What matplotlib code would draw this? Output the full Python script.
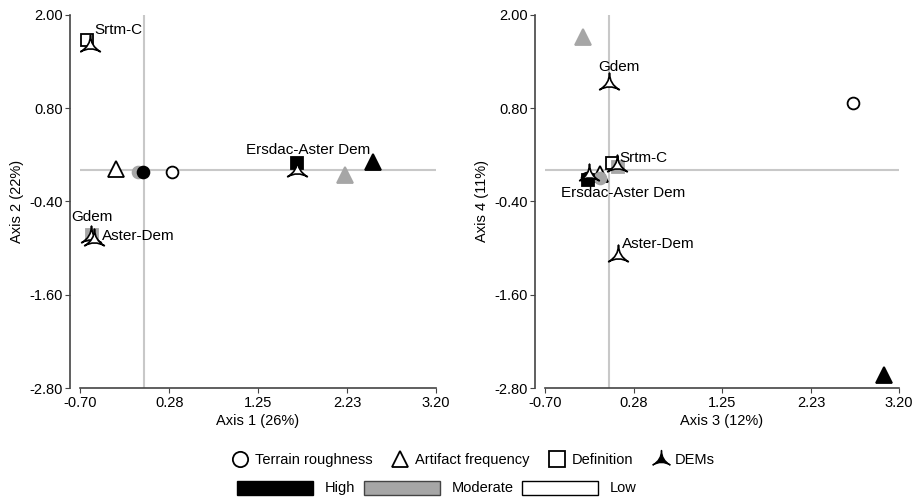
import numpy as np
import matplotlib
matplotlib.use('Agg')
import matplotlib.pyplot as plt
from matplotlib.path import Path
from matplotlib.lines import Line2D
from matplotlib.patches import Patch

plt.rcParams['font.family'] = ['Liberation Sans', 'DejaVu Sans']
plt.rcParams['font.size'] = 10.5

# category points: (x, y) per panel
# Terrain roughness (circles): high, moderate, low
circ_left = {'High': (-0.01, -0.02), 'Moderate': (-0.06, -0.02), 'Low': (0.31, -0.02)}
circ_right = {'High': (-0.24, -0.10), 'Moderate': (-0.09, -0.10), 'Low': (2.69, 0.87)}
# Artifact frequency (triangles)
tri_left = {'High': (2.51, 0.11), 'Moderate': (2.20, -0.06), 'Low': (-0.31, 0.02)}
tri_right = {'High': (3.04, -2.63), 'Moderate': (-0.28, 1.72), 'Low': (-0.09, -0.05)}
# Definition (squares)
sq_left = {'High': (1.68, 0.10), 'Moderate': (-0.57, -0.83), 'Low': (-0.62, 1.68)}
sq_right = {'High': (-0.23, -0.12), 'Moderate': (0.10, 0.04), 'Low': (0.04, 0.10)}

# DEMs
dem_names = ['Srtm-C', 'Ersdac-Aster Dem', 'Gdem', 'Aster-Dem']
dem_left_x = [-0.59, 1.68, -0.58, -0.55]
dem_left_y = [1.61, 0.00, -0.85, -0.88]
dem_right_x = [0.09, -0.21, 0.01, 0.10]
dem_right_y = [0.07, -0.05, 1.12, -1.09]

xticks = [-0.70, 0.28, 1.25, 2.23, 3.20]
yticks = [2.00, 0.80, -0.40, -1.60, -2.80]

level_colors = {'High': 'black', 'Moderate': '#a6a6a6', 'Low': 'white'}

# concave three-pointed DEM marker
top = (0.0, 1.0)
bl = (-0.95, -0.6)
br = (0.95, -0.6)
c = (0.0, -0.05)
dem_marker = Path([top, c, bl, c, br, c, top, top],
                  [Path.MOVETO, Path.CURVE3, Path.CURVE3, Path.CURVE3, Path.CURVE3,
                   Path.CURVE3, Path.CURVE3, Path.CLOSEPOLY])

fig = plt.figure(figsize=(9.2, 5.03), dpi=100)
ax1 = fig.add_axes([80/920, 1-388/503, 356/920, 373/503])
ax2 = fig.add_axes([545/920, 1-388/503, 354/920, 373/503])


def draw(ax, circ, tri, sq, dx, dy, xlabel, ylabel):
    ax.axhline(0, color='#c8c8c8', lw=1.5, zorder=1)
    ax.axvline(0, color='#c8c8c8', lw=1.5, zorder=1)
    for lev in ['Low', 'Moderate', 'High']:
        col = level_colors[lev]
        ec = '#a6a6a6' if lev == 'Moderate' else 'black'
        x, y = circ[lev]
        ax.plot(x, y, 'o', ms=8.5, mfc=col, mec=ec, mew=1.3, zorder=3)
        x, y = tri[lev]
        ax.plot(x, y, '^', ms=11, mfc=col, mec=ec, mew=1.3, zorder=3)
        x, y = sq[lev]
        ax.plot(x, y, 's', ms=9, mfc=col, mec=ec, mew=1.3, zorder=3)
    ax.plot(dx, dy, marker=dem_marker, ls='none', ms=15, mfc='white', mec='black',
            mew=1.2, zorder=4)
    ax.set_xlim(-0.70, 3.20)
    ax.set_ylim(-2.80, 2.00)
    ax.set_xticks(xticks)
    ax.set_xticklabels(['%.2f' % v for v in xticks])
    ax.set_yticks(yticks)
    ax.set_yticklabels(['%.2f' % v for v in yticks])
    for s in ['top', 'right']:
        ax.spines[s].set_visible(False)
    for s in ['left', 'bottom']:
        ax.spines[s].set_color('#444444')
        ax.spines[s].set_linewidth(1.2)
    ax.spines['left'].set_position(('outward', 7))
    ax.tick_params(length=3.5, color='#444444', labelsize=10.5, pad=2)
    ax.set_xlabel(xlabel, labelpad=3)
    ax.set_ylabel(ylabel, labelpad=4)


draw(ax1, circ_left, tri_left, sq_left, dem_left_x, dem_left_y, 'Axis 1 (26%)', 'Axis 2 (22%)')
draw(ax2, circ_right, tri_right, sq_right, dem_right_x, dem_right_y, 'Axis 3 (12%)', 'Axis 4 (11%)')

# DEM labels
lab = dict(textcoords='offset points', fontsize=11)
ax1.annotate('Srtm-C', (dem_left_x[0], dem_left_y[0]), xytext=(3, 8), **lab)
ax1.annotate('Ersdac-Aster Dem', (dem_left_x[1], dem_left_y[1]), xytext=(8, 12), ha='center', **lab)
ax1.annotate('Gdem', (dem_left_x[2], dem_left_y[2]), xytext=(-14, 11), **lab)
ax1.annotate('Aster-Dem', (dem_left_x[3], dem_left_y[3]), xytext=(6, -1), **lab)

ax2.annotate('Srtm-C', (dem_right_x[0], dem_right_y[0]), xytext=(2, 2), **lab)
ax2.annotate('Ersdac-Aster Dem', (dem_right_x[1], dem_right_y[1]), xytext=(24, -16), ha='center', **lab)
ax2.annotate('Gdem', (dem_right_x[2], dem_right_y[2]), xytext=(-8, 9), **lab)
ax2.annotate('Aster-Dem', (dem_right_x[3], dem_right_y[3]), xytext=(3, 5), **lab)

# legends
h1 = [Line2D([], [], marker='o', ls='none', ms=11, mfc='white', mec='black', mew=1.3),
      Line2D([], [], marker='^', ls='none', ms=12, mfc='white', mec='black', mew=1.3),
      Line2D([], [], marker='s', ls='none', ms=11, mfc='white', mec='black', mew=1.3),
      Line2D([], [], marker=dem_marker, ls='none', ms=13, mfc='black', mec='black', mew=1)]
fig.legend(h1, ['Terrain roughness', 'Artifact frequency', 'Definition', 'DEMs'],
           loc='center', bbox_to_anchor=(474/920, 1-460/503), ncol=4, frameon=False,
           handlelength=1.0, handletextpad=0.5, columnspacing=1.4, fontsize=10.5)

h2 = [Patch(facecolor='black', edgecolor='black'),
      Patch(facecolor='#a6a6a6', edgecolor='#444444'),
      Patch(facecolor='white', edgecolor='black')]
fig.legend(h2, ['High', 'Moderate', 'Low'],
           loc='center', bbox_to_anchor=(437/920, 1-488/503), ncol=3, frameon=False,
           handlelength=5.2, handleheight=1.1, handletextpad=0.8, columnspacing=0.6, fontsize=10.5)

fig.savefig('out.png', dpi=100)
